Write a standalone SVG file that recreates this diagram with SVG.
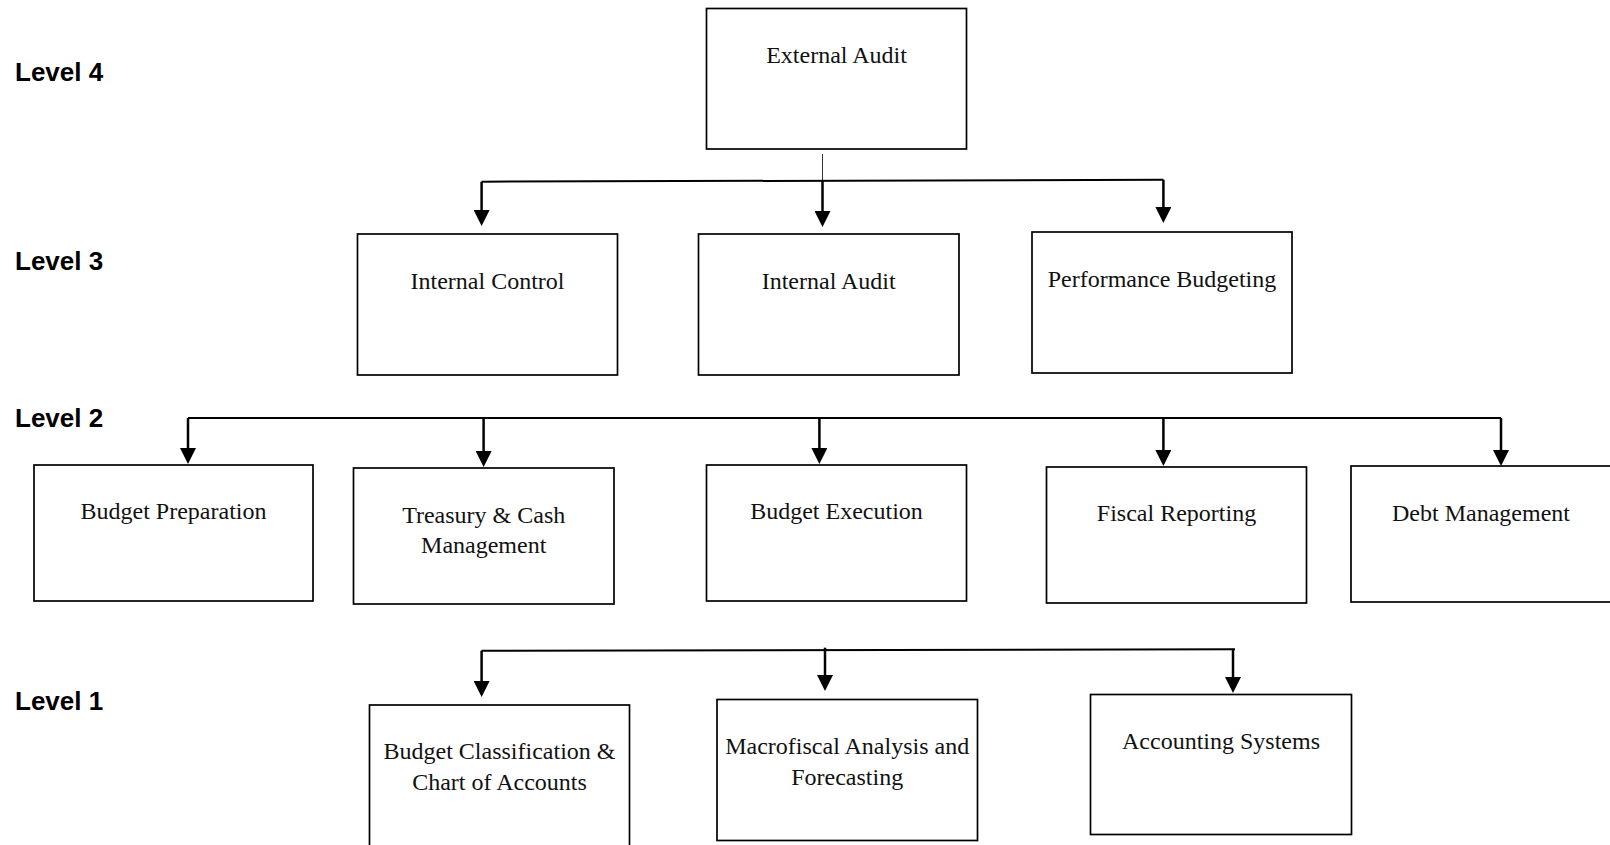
<svg xmlns="http://www.w3.org/2000/svg" width="1610" height="845" viewBox="0 0 1610 845">
<style>
.box{fill:#fff;stroke:#000;stroke-width:1.7}
.t{font-family:"Liberation Serif","Times New Roman",serif;font-size:24px;fill:#111;text-anchor:middle}
.lvl{font-family:"Liberation Sans",Arial,sans-serif;font-size:26px;font-weight:bold;fill:#000}
.ln{stroke:#000;stroke-width:2;fill:none}
.ar{stroke:#000;stroke-width:2.5;fill:none;marker-end:url(#ah)}
</style>
<defs>
<marker id="ah" markerUnits="userSpaceOnUse" markerWidth="16" markerHeight="16" viewBox="0 0 16 16" refX="8" refY="8" orient="auto">
<path d="M0,0 L16,8 L0,16 z" fill="#000"/>
</marker>
</defs>
<rect width="1610" height="845" fill="#fff"/>
<g id="levels">
<text class="lvl" x="15" y="81">Level 4</text>
<text class="lvl" x="15" y="270">Level 3</text>
<text class="lvl" x="15" y="427">Level 2</text>
<text class="lvl" x="15" y="710">Level 1</text>
</g>
<g id="connectors">
<line x1="822.5" y1="154" x2="822.5" y2="181" stroke="#333" stroke-width="1"/>
<line class="ln" x1="481.6" y1="181.7" x2="1163.4" y2="179.7"/>
<line class="ar" x1="481.6" y1="181.7" x2="481.6" y2="218"/>
<line class="ar" x1="822.5" y1="181" x2="822.5" y2="219"/>
<line class="ar" x1="1163.4" y1="179.7" x2="1163.4" y2="215"/>
<line class="ln" x1="188" y1="418" x2="1501" y2="418"/>
<line class="ar" x1="188" y1="418" x2="188" y2="456"/>
<line class="ar" x1="483.6" y1="418" x2="483.6" y2="459"/>
<line class="ar" x1="819.4" y1="418" x2="819.4" y2="456"/>
<line class="ar" x1="1163.4" y1="418" x2="1163.4" y2="458"/>
<line class="ar" x1="1501" y1="418" x2="1501" y2="458"/>
<line class="ln" x1="481.6" y1="650.7" x2="1235" y2="649.3"/>
<line class="ar" x1="481.6" y1="650.7" x2="481.6" y2="689"/>
<line class="ar" x1="825" y1="647.7" x2="825" y2="683"/>
<line class="ar" x1="1233" y1="649.3" x2="1233" y2="685"/>
</g>
<g id="external-audit"><rect class="box" x="706.5" y="8.5" width="260" height="140.5"/><text class="t" x="836.5" y="63">External Audit</text></g>
<g id="internal-control"><rect class="box" x="357.5" y="234" width="260" height="141"/><text class="t" x="487.5" y="289">Internal Control</text></g>
<g id="internal-audit"><rect class="box" x="698.5" y="234" width="260.5" height="141"/><text class="t" x="828.7" y="289">Internal Audit</text></g>
<g id="performance-budgeting"><rect class="box" x="1032" y="232" width="260" height="141"/><text class="t" x="1162" y="287">Performance Budgeting</text></g>
<g id="budget-preparation"><rect class="box" x="34" y="465" width="279" height="136"/><text class="t" x="173.5" y="519">Budget Preparation</text></g>
<g id="treasury"><rect class="box" x="353.5" y="468" width="260.5" height="136"/><text class="t" x="483.7" y="523">Treasury &amp; Cash</text><text class="t" x="483.7" y="553">Management</text></g>
<g id="budget-execution"><rect class="box" x="706.5" y="465" width="260" height="136"/><text class="t" x="836.5" y="519">Budget Execution</text></g>
<g id="fiscal-reporting"><rect class="box" x="1046.5" y="467" width="260" height="136"/><text class="t" x="1176.5" y="521">Fiscal Reporting</text></g>
<g id="debt-management"><rect class="box" x="1351" y="466" width="260" height="136"/><text class="t" x="1481" y="521">Debt Management</text></g>
<g id="budget-classification"><rect class="box" x="369.5" y="705" width="260" height="145"/><text class="t" x="499.5" y="759">Budget Classification &amp;</text><text class="t" x="499.5" y="790">Chart of Accounts</text></g>
<g id="macrofiscal"><rect class="box" x="717" y="699.5" width="260.5" height="141"/><text class="t" x="847.2" y="754">Macrofiscal Analysis and</text><text class="t" x="847.2" y="785">Forecasting</text></g>
<g id="accounting-systems"><rect class="box" x="1090.5" y="694.5" width="261" height="140"/><text class="t" x="1221" y="749">Accounting Systems</text></g>
</svg>
